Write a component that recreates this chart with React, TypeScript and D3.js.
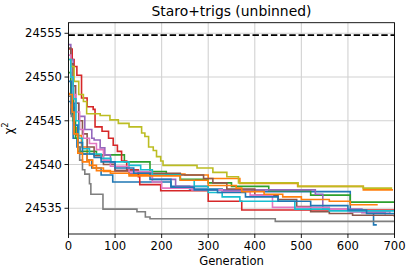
import React from "react";
import * as d3 from "d3";

const W = 413;
const H = 275;

const xTicks = [0, 100, 200, 300, 400, 500, 600, 700];
const yTicks = [24535, 24540, 24545, 24550, 24555];
const xDomain: [number, number] = [0, 700];
const yDomain: [number, number] = [24532.06, 24556.21];
const referenceLevel = 24554.8;

const title = "Staro+trigs (unbinned)";
const xLabel = "Generation";

const colors = [
  "#1f77b4", "#ff7f0e", "#2ca02c", "#d62728", "#9467bd", "#8c564b",
  "#e377c2", "#7f7f7f", "#bcbd22", "#17becf", "#1f77b4", "#ff7f0e",
];

// [generation, chi2] step points (value holds until next generation)
const runBlueA: [number, number][] = [
  [0, 24547.2], [5, 24545.8], [10, 24543], [18, 24542], [25, 24541.2], [40, 24540.5],
  [50, 24539.6], [70, 24538.8], [95, 24538.0], [220, 24537.5], [260, 24537.2],
  [330, 24537.0], [420, 24536.9], [605, 24534.6], [655, 24533.1], [662, 24533.1],
];
const runOrangeA: [number, number][] = [
  [0, 24548.1], [6, 24546.5], [12, 24544.2], [18, 24543.3], [28, 24542], [40, 24540.5],
  [52, 24539.6], [75, 24539.2], [130, 24538.9], [250, 24538.8], [300, 24538.4],
  [368, 24537.85], [492, 24537.5], [633, 24537.1], [695, 24537.0],
];
const runGreen: [number, number][] = [
  [0, 24550.5], [5, 24548], [10, 24545], [15, 24543], [20, 24541.5], [60, 24541.1],
  [120, 24540.3], [175, 24539.2], [210, 24538.8], [240, 24538.3], [300, 24537.9],
  [350, 24537.5], [430, 24537.0], [520, 24536.5], [605, 24535.7], [699, 24535.7],
];
const runRed: [number, number][] = [
  [0, 24553.2], [8, 24552], [12, 24551.2], [18, 24550.2], [28, 24547.6], [40, 24546.6],
  [53, 24546.3], [57, 24544.3], [72, 24543.8], [86, 24543], [96, 24542.2], [105, 24541.5],
  [114, 24540.4], [125, 24539.4], [150, 24538.6], [153, 24537.7], [198, 24537.0],
  [300, 24535.8], [372, 24534.8], [700, 24534.8],
];
const runPurple: [number, number][] = [
  [0, 24553.7], [5, 24552], [10, 24549], [15, 24547], [22, 24545.5], [35, 24544],
  [50, 24543], [55, 24542.8], [68, 24541.9], [78, 24541.1], [90, 24540.2], [100, 24539.3],
  [130, 24539.0], [180, 24538.3], [230, 24537.5], [300, 24537.1], [530, 24536.6],
  [546, 24534.9], [630, 24534.5], [680, 24534.3],
];
const runBrown: [number, number][] = [
  [0, 24553.3], [5, 24551.5], [10, 24549], [15, 24547], [22, 24545], [30, 24543.5],
  [40, 24542], [55, 24541], [75, 24540], [100, 24539.3], [150, 24539], [240, 24538.8],
  [290, 24538.4], [310, 24537.9], [340, 24537.2], [400, 24536.5], [450, 24536.0],
  [490, 24535.2], [520, 24534.6], [560, 24534.4], [610, 24534.2], [700, 24534.0],
];
const runPink: [number, number][] = [
  [0, 24552.5], [5, 24550], [10, 24548], [16, 24546], [24, 24544], [32, 24543],
  [45, 24542.4], [60, 24541.7], [75, 24540.5], [90, 24539.8], [130, 24539.2],
  [180, 24538.0], [200, 24537.3], [265, 24537.1], [330, 24536.9], [390, 24536.5],
  [438, 24535.1], [560, 24534.9], [600, 24534.6], [690, 24534.4],
];
const runGray: [number, number][] = [
  [0, 24547.8], [6, 24545.5], [12, 24543.5], [20, 24542], [24, 24540.5], [30, 24539.4],
  [35, 24538.9], [45, 24537.8], [48, 24536.6], [74, 24534.9], [147, 24534.6],
  [165, 24534.0], [175, 24533.8], [444, 24533.5], [700, 24533.5],
];
const runOlive: [number, number][] = [
  [0, 24552], [5, 24551.2], [12, 24549.5], [22, 24548], [32, 24547.2], [39, 24545.8],
  [68, 24545.6], [89, 24545.1], [107, 24544.7], [130, 24544.3], [157, 24543.6],
  [164, 24543.2], [172, 24542.0], [182, 24541.6], [189, 24540.9], [198, 24540.4],
  [203, 24539.9], [276, 24539.6], [310, 24539.1], [340, 24538.6], [365, 24537.9],
  [493, 24537.5], [633, 24537.3], [695, 24537.3],
];
const runCyan: [number, number][] = [
  [0, 24552], [5, 24550], [10, 24547.5], [16, 24545], [22, 24543], [30, 24541.8],
  [45, 24541.2], [70, 24540.7], [91, 24540.3], [130, 24539.9], [155, 24539.4],
  [180, 24538.8], [240, 24538.2], [270, 24537.5], [300, 24536.8], [330, 24536.3],
  [368, 24535.8], [486, 24534.9], [560, 24534.7], [700, 24534.6],
];
const runBlueB: [number, number][] = [
  [0, 24549.5], [6, 24547], [12, 24544.5], [20, 24542.5], [30, 24541.2], [55, 24540.8],
  [70, 24540.3], [100, 24539.6], [140, 24539.0], [175, 24538.3], [220, 24537.4],
  [270, 24537.1], [320, 24536.8], [380, 24536.3], [450, 24535.8], [520, 24535.3],
  [600, 24534.8], [640, 24534.4], [700, 24534.4],
];
const runOrangeB: [number, number][] = [
  [0, 24548.0], [8, 24546], [12, 24543.5], [20, 24541.3], [30, 24540.3], [45, 24539.9],
  [60, 24539.3], [90, 24539.0], [130, 24538.7], [240, 24538.2], [300, 24537.6],
  [360, 24537.3], [372, 24536.9], [420, 24536.6], [460, 24536.3], [500, 24536.0],
  [560, 24535.8], [605, 24535.4], [664, 24535.4],
];

const runs = [
  runBlueA, runOrangeA, runGreen, runRed, runPurple, runBrown,
  runPink, runGray, runOlive, runCyan, runBlueB, runOrangeB,
];

const M = { left: 68.5, right: 394.5, top: 22.7, bottom: 234 };
const FONT = "DejaVu Sans, Verdana, sans-serif";

export default function App() {
  const x = d3.scaleLinear().domain(xDomain).range([M.left, M.right]);
  const y = d3.scaleLinear().domain(yDomain).range([M.bottom, M.top]);
  const line = d3
    .line<[number, number]>()
    .x((d) => x(d[0]))
    .y((d) => y(d[1]))
    .curve(d3.curveStepAfter);

  return (
    <svg
      width={W}
      height={H}
      style={{ position: "absolute", left: 0, top: 0, background: "#fff" }}
      fontFamily={FONT}
    >
      <defs>
        <clipPath id="plot">
          <rect x={M.left} y={M.top} width={M.right - M.left} height={M.bottom - M.top} />
        </clipPath>
      </defs>
      {/* grid */}
      {xTicks.map((t) => (
        <line key={"gx" + t} x1={x(t)} x2={x(t)} y1={M.top} y2={M.bottom} stroke="#d2d2d2" strokeWidth={1.1} />
      ))}
      {yTicks.map((t) => (
        <line key={"gy" + t} x1={M.left} x2={M.right} y1={y(t)} y2={y(t)} stroke="#d2d2d2" strokeWidth={1.1} />
      ))}
      {/* reference level */}
      <line
        x1={x(xDomain[0])}
        x2={x(xDomain[1])}
        y1={y(referenceLevel)}
        y2={y(referenceLevel)}
        stroke="#000"
        strokeWidth={1.7}
        strokeDasharray="6.4,2.8"
      />
      <g clipPath="url(#plot)">
        {runs.map((r, i) => (
          <path key={i} d={line(r) || ""} fill="none" stroke={colors[i]} strokeWidth={1.6} />
        ))}
      </g>
      {/* frame */}
      <rect x={M.left} y={M.top} width={M.right - M.left} height={M.bottom - M.top} fill="none" stroke="#000" strokeWidth={0.9} />
      {/* x ticks */}
      {xTicks.map((t) => (
        <g key={"tx" + t}>
          <line x1={x(t)} x2={x(t)} y1={M.bottom} y2={M.bottom + 4} stroke="#000" strokeWidth={0.9} />
          <text x={x(t)} y={250.3} textAnchor="middle" fontSize={11.6} fill="#000">
            {t}
          </text>
        </g>
      ))}
      {yTicks.map((t) => (
        <g key={"ty" + t}>
          <line x1={M.left - 4} x2={M.left} y1={y(t)} y2={y(t)} stroke="#000" strokeWidth={0.9} />
          <text x={62} y={y(t) + 4.2} textAnchor="end" fontSize={11.6} fill="#000">
            {t}
          </text>
        </g>
      ))}
      <text x={(M.left + M.right) / 2} y={264.5} textAnchor="middle" fontSize={11.6} fill="#000">
        {xLabel}
      </text>
      <text transform={`translate(13,128.4) rotate(-90)`} textAnchor="middle" fontSize={11.6} fill="#000">
        χ<tspan fontSize={8} dy={-5}>2</tspan>
      </text>
      <text x={(M.left + M.right) / 2} y={16} textAnchor="middle" fontSize={13.9} fill="#000">
        {title}
      </text>
    </svg>
  );
}
